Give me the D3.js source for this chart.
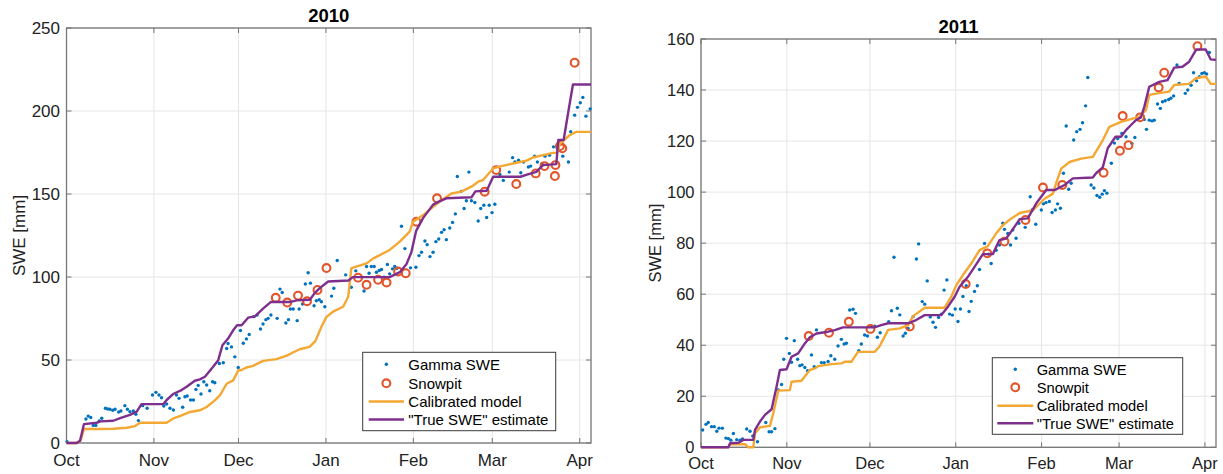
<!DOCTYPE html>
<html><head><meta charset="utf-8">
<script src="https://cdn.jsdelivr.net/npm/d3@7"></script>
<style>body{margin:0;background:#fff} svg{display:block} text{font-family:"Liberation Sans",Arial,Helvetica,sans-serif}</style>
</head><body><svg id="c" width="1223" height="474"></svg>
<script>
// ---------- data (day = days since 1 Oct, value = SWE in mm) ----------
const monthLabels = ["Oct","Nov","Dec","Jan","Feb","Mar","Apr"];
const yTicks2010 = [0,50,100,150,200,250];
const yTicks2011 = [0,20,40,60,80,100,120,140,160];
const legendLabels = ["Gamma SWE","Snowpit","Calibrated model","\"True SWE\" estimate"];

const gamma2010 = [[0.2,0.8],[6.9,14.5],[7.7,16.2],[8.6,15.4],[9.5,10.6],[10.4,10.6],[11.6,13.3],[12.5,14.9],[13.8,20.9],[14.6,20.5],[15.4,20.3],[16.4,19.7],[17.2,20.3],[18.5,18.7],[19.3,19.3],[20.7,22.5],[21.6,20.3],[22.5,18.9],[23.7,19.3],[24.6,17.3],[25.5,13.5],[27.0,22.5],[28.6,20.9],[30.5,28.9],[31.7,30.5],[32.8,28.9],[33.7,27.3],[34.5,22.3],[35.5,23.5],[36.7,20.9],[37.9,19.9],[39.0,28.9],[39.9,26.9],[41.2,21.5],[42.0,27.9],[42.8,28.3],[44.0,25.9],[45.0,25.9],[45.9,32.3],[46.7,34.7],[47.7,29.5],[48.7,36.9],[49.7,34.9],[50.8,31.5],[51.8,36.9],[52.6,36.3],[54.2,47.9],[55.6,48.3],[56.8,56.9],[57.3,59.9],[58.5,57.9],[59.7,51.9],[60.9,45.5],[61.7,67.8],[62.7,60.1],[63.8,62.7],[64.8,65.4],[66.4,76.1],[67.6,77.1],[68.8,68.7],[69.7,71.7],[70.7,74.3],[71.5,75.1],[72.5,77.1],[74.7,75.1],[75.7,92.7],[76.5,90.7],[77.8,72.3],[78.7,74.3],[79.4,80.7],[80.4,80.7],[81.8,73.7],[82.5,80.7],[83.7,83.7],[84.7,95.8],[85.7,102.6],[86.5,96.3],[87.8,82.7],[88.6,85.7],[89.6,86.3],
[90.4,85.1],[91.6,82.1],[94,88.5],[94.8,93.2],[96,109.9],[99,101.3],[101,93.8],[102.6,103.7],[105.5,91.6],[106.4,106.3],[107.3,102.3],[108.1,106.3],[109.1,106.3],[109.9,102.9],[110.9,103.9],[111.7,104.5],[112.6,99.9],[113.8,107.5],[114.6,101.9],[115.6,104.9],[116.4,106.3],[117.2,105.3],[118.8,130.6],[120,117.1],[122,105.5],[123.9,105.9],[125,112.9],[125.9,114.9],[127.1,121.7],[127.9,119.5],[128.9,112.3],[130,114.9],[131,121.3],[132,122.9],[133,126.9],[133.9,128.5],[134.7,122.5],[135.9,129.5],[136.9,132.9],[137.9,138],[138.6,160.5],[140,151.6],[141,141.3],[141.8,145.9],[142.7,163.2],[143.6,145.9],[144.8,144.9],[146,133.7],[146.9,141.3],[148,143.2],[149,135.8],[149.9,143.2],[150.9,138.8],[151.9,143.8],[153.7,161.8],[154.9,158.2],[157,163.2],[158.2,171.9],[159,169.3],[160.3,170.4],[161.1,162.8],[162.1,169.3],[163.8,166.3],[164.6,166.8],[166,172.8],[167,169.3],[168.6,168.3],[169.7,172.8],[171.3,173.4],[172.7,178.4],[174.1,177.4],[176,172.8],[178,169.3],[178.8,187.5],[180.2,197.5],[181.2,202.2],[182.2,205],[183.1,208.2],[184.2,196.9],[185.7,201.3]];

const snowpit2010 = [[74.2,87.5],[78.3,84.6],[82.1,88.8],[85.3,85.4],[89,92.2],[92.2,105.4],[103.4,99.6],[106.4,95.3],[110.5,98.3],[113.5,96.7],[117.6,103.3],[120.3,102.3],[124.1,133.3],[131.4,147.4],[148.3,151.4],[152.4,164.4],[159.5,156],[166.4,162.4],[169.5,166.8],[173.2,160.8],[173.4,167.4],[175,178.9],[175.8,177.5],[180.2,229.1]];

const model2010 = [[0,0],[3.6,0],[5,1.5],[6.2,8.4],[11.9,8.4],[16.6,8.6],[21.3,9.2],[24.3,10.2],[26.1,12.2],[35.5,12.2],[37.9,14.8],[40.2,16.2],[43.8,18.7],[47.3,19.7],[49.7,21.7],[52.6,25.7],[54.4,28.7],[56.8,35.7],[59.1,37.7],[60.9,43.7],[62.1,44],[63.8,45.5],[66.2,46.5],[69.7,49.5],[74.4,50.5],[77.9,52.5],[80.3,54.5],[82.7,56.5],[86.2,57.9],[88.3,61.5],[90.4,70],[92.2,76],[94.5,79.1],[98.1,82.1],[99.9,88.1],[101,105.2],[102.2,106],[106.4,108.2],[108.8,111.2],[111.1,113.2],[114.6,116.3],[118.2,121.3],[121.7,127.3],[122.9,133.3],[126.5,137.3],[130,142.3],[133.5,146.8],[136.5,150.3],[140,151.4],[143.6,154.4],[146,157.4],[147.7,158.4],[151.3,165.4],[154.2,166.8],[158.4,168.4],[163,170],[165.4,172],[169,173.4],[172.5,174.8],[174,174.8],[175,180.4],[178.4,185.4],[180.8,187.4],[186,187.4]];

const trueSWE2010 = [[0,0],[3.6,0],[4.8,1.4],[6.2,11.4],[10.7,12.2],[12,13],[16.6,13.4],[19,15],[22.5,16.9],[24.9,18.9],[26.6,23.4],[34.3,23.4],[35.5,25.9],[37.8,29.5],[40.8,31.9],[42.6,33.9],[45.5,37.5],[47.3,38.3],[49.1,39.9],[52,45.9],[53.8,49.9],[55.3,58.9],[57.3,62.9],[59.1,67.9],[60.5,70.9],[62.1,70.9],[64.4,75.5],[66.8,76.3],[69.7,80.9],[72.4,84.9],[79.2,84.9],[81.6,85.9],[86.3,86.3],[88,90.3],[89.8,93.3],[92.8,97.3],[100,97.9],[101.5,99.9],[114.6,99.9],[118.2,102.9],[120.6,107.9],[122.3,114.9],[124,127.8],[126.5,135.6],[130,143.6],[132,145.4],[134.7,147.4],[143.6,148],[145,151.6],[149,152],[151.3,160.4],[161,160.4],[163,161.5],[166.6,163.3],[169,167.4],[173.7,168],[174.4,182.5],[176.3,182.5],[178,200],[179.6,216],[186,216]];

const gamma2011 = [[0.6,6.8],[1.8,9],[2.6,9.7],[3.8,8.1],[4.8,8.1],[5.7,6.3],[6.5,7.5],[7.7,7.5],[9,3.6],[9.9,3.4],[10.8,2.8],[11.7,5.4],[12.9,3],[14.1,2.8],[15,3.3],[16.5,7.2],[17.7,6.3],[18.7,4.4],[20.4,2.2],[23.4,9.7],[24.6,6.1],[25.5,6.1],[26.7,7.3],[27.9,22.5],[29.1,24.6],
[29.9,34.5],[30.9,42.7],[31.9,36.8],[32.7,33.3],[33.7,41.8],[34.9,34.5],[35.7,32],[36.5,32.3],[37.5,31.3],[38.5,30],[39.9,36.2],[40.9,31.6],[41.7,46],[43.5,33.2],[44.5,33.2],[45.9,33.6],[46.9,35.9],[48.3,34.5],[49.5,39.7],[50.7,42.3],[51.7,40.5],[52.5,40.8],[53.7,53.8],[54.9,54.1],[55.8,52.5],[57,37.9],[57.9,40.5],[59.1,44],[60.1,43.6],[61.3,47.5],[62.7,47.5],[63.7,43.1],[64.7,44.9],[67.8,49.2],[68.8,53.5],[69.7,74.5],[70.9,54.5],[71.8,51.9],[73,43.6],[73.8,44.7],[74.8,46.6],[76.6,51.2],
[77.8,73.8],[78.6,79.7],[79.9,57.1],[80.8,56.1],[81.7,65.2],[82.8,51.1],[83.8,49],[84.7,47],[85.8,50.9],[86.8,52.2],[87.8,61.6],[88.8,65.6],[89.8,52.2],[90.8,51.8],[91.8,54.2],[92.8,49.3],[93.7,54.2],[94.6,59.1],[95.8,63.3],[96.8,53.2],[97.6,57.2],[98.8,61.1],[99.8,63.3],
[100.6,69.7],[102.4,79.9],[103.9,75.7],[104.8,72],[106.6,77.2],[107.8,79.3],[109,87.8],[109.6,85.4],[110.8,83.8],[111.8,79.3],[112.6,85.2],[113.8,81.9],[114.8,87.8],[117.1,86.2],[118.9,98.2],[119.6,93],[120.9,87.4],[122.9,93],[123.7,95.4],[124.6,95.9],[125.8,96.3],[126.8,92],[128,93],[128.8,95.4],[129.8,93.7],[130.9,107.4],[131.9,125.9],[132.8,101.1],[133.7,103.5],[134.6,120.4],[135.7,123.7],[136.9,124.6],[137.8,127.2],[138.9,133.8],[139.7,144.9],[140.9,102.8],[141.9,101.6],[143,98.7],[144,98],[144.9,99.2],[145.7,100.6],[146.6,99.6],[148.2,111.3],[149.3,119.2],[150.5,121],[152,123],[153.5,121.7],[155.6,119.1],[156.7,121.4],[160.1,128.5],[160.9,124.6],[161.9,128.2],[162.9,127.9],[163.7,128.2],[164.9,134.5],[165.9,132.8],[166.7,135.4],[167.7,135.8],[168.9,136.3],[169.7,136.8],[170.7,137.7],[171.9,149.8],[172.7,142.6],[174.9,138.7],[175.8,140],[177,141.9],[177.9,146.8],[179,143.6],[180,145.2],[180.9,146.5],[181.8,146.8],[182.6,146.3],[183.6,154.7]];

const snowpit2011 = [[38.9,43.6],[46.2,44.9],[53.4,49.2],[61.2,46.4],[75.4,47.3],[95.6,64],[103.4,76],[109.6,80.6],[117.2,89.1],[123.5,101.8],[130.5,102.8],[145.4,107.6],[151.3,116.2],[152.3,129.8],[154.4,118.4],[158.6,129.3],[165.3,141],[167.3,146.8],[179.3,157.2]];

const model2011 = [[0,0],[9.9,0],[10.5,1.2],[15.9,1.2],[17.1,0],[18.9,0],[19.5,5.5],[21.3,7.8],[24.9,8.4],[26.1,13.3],[27.9,22.2],[32.1,22.4],[32.7,25.7],[36.3,26.1],[39.3,30.3],[41.1,30.9],[42.3,31.8],[47.1,32.6],[50.7,32.9],[51.9,33.5],[54.3,33.5],[56.7,37.4],[62.7,37.4],[64.4,39.4],[67.6,46],[71.8,46.6],[74.8,47.9],[76.6,51.4],[80.8,54.7],[88,54.7],[90.4,59],[92.2,63.5],[94.6,67.5],[97.6,72],[100.6,77.3],[103.6,78.8],[106.6,83.8],[109,87],[112,89.6],[115.1,91.8],[119.9,92.9],[124.1,97.4],[127.1,99.4],[128.3,103.6],[130.1,109.2],[133.1,111.8],[137.3,113.1],[141.5,113.8],[145.1,120.3],[147.5,125.6],[151.7,127.5],[155.9,128.8],[158.3,129.5],[160.7,132.1],[161.9,138.1],[164.9,138.7],[169.1,139.4],[170.9,142],[176.3,142.4],[178.7,144.6],[182.3,145.3],[184.1,142.4],[186,142.4]];

const trueSWE2011 = [[0,0],[9.9,0],[10.5,1.6],[13.5,1.8],[15.3,2.9],[18.9,2.9],[19.5,6.8],[21.3,10.1],[23.1,12.7],[25.5,14.9],[27.3,23.8],[28.5,30.3],[30.9,30.6],[32.7,35.5],[35.1,36.8],[37.5,40.7],[39.3,43.1],[41.7,44.6],[45.9,45.3],[48.3,45.9],[51.3,47],[62.7,47],[65.1,47.9],[67.6,48.6],[74.8,48.6],[77.2,49.6],[80.8,51.8],[86.8,51.8],[89.2,55.1],[91.6,59],[93.4,62.9],[96.4,66.8],[98.8,70.7],[101.8,75.7],[105.4,75.7],[107.8,81.2],[110.2,81.8],[112.6,85.4],[115.1,89.4],[118,89.7],[121.1,95.6],[124.7,100.8],[127.7,100.8],[131.3,102.8],[134.3,105.4],[141.5,105.7],[142.7,107.4],[145.1,109.7],[146.9,117.2],[149.7,121.7],[151.7,121.7],[153.5,124.3],[155.3,126.3],[157.1,128.2],[158.9,129.3],[160.1,133.4],[161.9,141.3],[165.5,143.2],[168.5,143.9],[170.9,148.8],[173.9,149.1],[176.3,151.1],[178.9,155.9],[182.3,155.9],[184.1,152],[186,151.8]];

// ---------- styles ----------
const C = {gamma:"#0072BD", pit:"#E2542A", model:"#F4A834", trueSWE:"#7E2F8E", grid:"#e6e6e6", axis:"#767676", text:"#222"};

const svg = d3.select("#c");

function panel(cfg){
  const start = Date.UTC(cfg.year-1,9,1), end = Date.UTC(cfg.year,3,5);
  const x = d3.scaleUtc().domain([new Date(start), new Date(end)]).range([cfg.left, cfg.right]);
  const y = d3.scaleLinear().domain([0, cfg.yTicks[cfg.yTicks.length-1]]).range([cfg.bottom, cfg.top]);
  const dx = d => x(new Date(start + d*864e5));
  const g = svg.append("g");
  const monthTicks = x.ticks(d3.utcMonth.every(1));
  g.selectAll(".vg").data(monthTicks).join("line").attr("x1",d=>x(d)).attr("x2",d=>x(d))
    .attr("y1",cfg.top).attr("y2",cfg.bottom).attr("stroke",C.grid).attr("stroke-width",1);
  g.selectAll(".hg").data(cfg.yTicks).join("line").attr("y1",d=>y(d)).attr("y2",d=>y(d))
    .attr("x1",cfg.left).attr("x2",cfg.right).attr("stroke",C.grid).attr("stroke-width",1);
  const tl = 5;
  monthTicks.forEach(d=>{
    g.append("line").attr("x1",x(d)).attr("x2",x(d)).attr("y1",cfg.bottom).attr("y2",cfg.bottom-tl).attr("stroke",C.axis);
    g.append("line").attr("x1",x(d)).attr("x2",x(d)).attr("y1",cfg.top).attr("y2",cfg.top+tl).attr("stroke",C.axis);
  });
  cfg.yTicks.forEach(d=>{
    g.append("line").attr("y1",y(d)).attr("y2",y(d)).attr("x1",cfg.left).attr("x2",cfg.left+tl).attr("stroke",C.axis);
    g.append("line").attr("y1",y(d)).attr("y2",y(d)).attr("x1",cfg.right).attr("x2",cfg.right-tl).attr("stroke",C.axis);
  });
  g.append("rect").attr("x",cfg.left).attr("y",cfg.top).attr("width",cfg.right-cfg.left).attr("height",cfg.bottom-cfg.top)
    .attr("fill","none").attr("stroke",C.axis).attr("stroke-width",1.3);
  g.selectAll(".xl").data(monthTicks).join("text").attr("x",d=>x(d)).attr("y",cfg.bottom+cfg.xlOff)
    .attr("text-anchor","middle").attr("font-size",cfg.fs).attr("fill",C.text).text((d,i)=>monthLabels[i]);
  g.selectAll(".yl").data(cfg.yTicks).join("text").attr("x",cfg.left-6.5).attr("y",d=>y(d)).attr("dy","0.36em")
    .attr("text-anchor","end").attr("font-size",cfg.fs).attr("fill",C.text).text(d=>d);
  g.append("text").attr("transform",`translate(${cfg.ylabX},${(cfg.top+cfg.bottom)/2}) rotate(-90)`)
    .attr("text-anchor","middle").attr("font-size",cfg.fs).attr("fill",C.text).text("SWE [mm]");
  g.append("text").attr("x",(cfg.left+cfg.right)/2).attr("y",cfg.titleY).attr("text-anchor","middle")
    .attr("font-size",18.5).attr("font-weight","bold").attr("fill","#000").text(cfg.year);
  const line = d3.line().x(d=>dx(d[0])).y(d=>y(d[1]));
  g.selectAll(".gd").data(cfg.gamma).join("circle").attr("cx",d=>dx(d[0])).attr("cy",d=>y(d[1])).attr("r",1.7).attr("fill",C.gamma);
  g.selectAll(".pt").data(cfg.pit).join("circle").attr("cx",d=>dx(d[0])).attr("cy",d=>y(d[1])).attr("r",3.9)
    .attr("fill","none").attr("stroke",C.pit).attr("stroke-width",2.1);
  g.append("path").datum(cfg.model).attr("d",line).attr("fill","none").attr("stroke",C.model).attr("stroke-width",2.4).attr("stroke-linejoin","round");
  g.append("path").datum(cfg.trueSWE).attr("d",line).attr("fill","none").attr("stroke",C.trueSWE).attr("stroke-width",2.4).attr("stroke-linejoin","round");
  const L = cfg.leg;
  g.append("rect").attr("x",L.x).attr("y",L.y).attr("width",L.w).attr("height",L.h).attr("fill","#fff").attr("stroke","#3a3a3a").attr("stroke-width",1);
  const mx = (L.lx0+L.lx1)/2;
  g.append("circle").attr("cx",mx).attr("cy",L.rows[0]).attr("r",1.7).attr("fill",C.gamma);
  g.append("circle").attr("cx",mx).attr("cy",L.rows[1]).attr("r",3.9).attr("fill","none").attr("stroke",C.pit).attr("stroke-width",2.1);
  g.append("line").attr("x1",L.lx0).attr("x2",L.lx1).attr("y1",L.rows[2]).attr("y2",L.rows[2]).attr("stroke",C.model).attr("stroke-width",2.4);
  g.append("line").attr("x1",L.lx0).attr("x2",L.lx1).attr("y1",L.rows[3]).attr("y2",L.rows[3]).attr("stroke",C.trueSWE).attr("stroke-width",2.4);
  legendLabels.forEach((t,i)=>{
    g.append("text").attr("x",L.tx).attr("y",L.rows[i]).attr("dy","0.36em").attr("font-size",L.fs).attr("fill","#000").text(t);
  });
}

panel({year:2010, left:66.5, right:591, top:28, bottom:443, yTicks:yTicks2010, fs:17, xlOff:23, ylabX:25, titleY:22,
  gamma:gamma2010, pit:snowpit2010, model:model2010, trueSWE:trueSWE2010,
  leg:{x:362.7,y:352.3,w:193,h:78.4,rows:[364.3,383.3,401.5,419.5],lx0:368.7,lx1:404,tx:408.3,fs:15}});
panel({year:2011, left:701, right:1216, top:39, bottom:447.3, yTicks:yTicks2011, fs:16.5, xlOff:22, ylabX:660.5, titleY:32.5,
  gamma:gamma2011, pit:snowpit2011, model:model2011, trueSWE:trueSWE2011,
  leg:{x:992.3,y:357.7,w:190.4,h:76.6,rows:[369.3,387.3,405.7,423.3],lx0:997.3,lx1:1033.3,tx:1036.7,fs:14.7}});
</script></body></html>
